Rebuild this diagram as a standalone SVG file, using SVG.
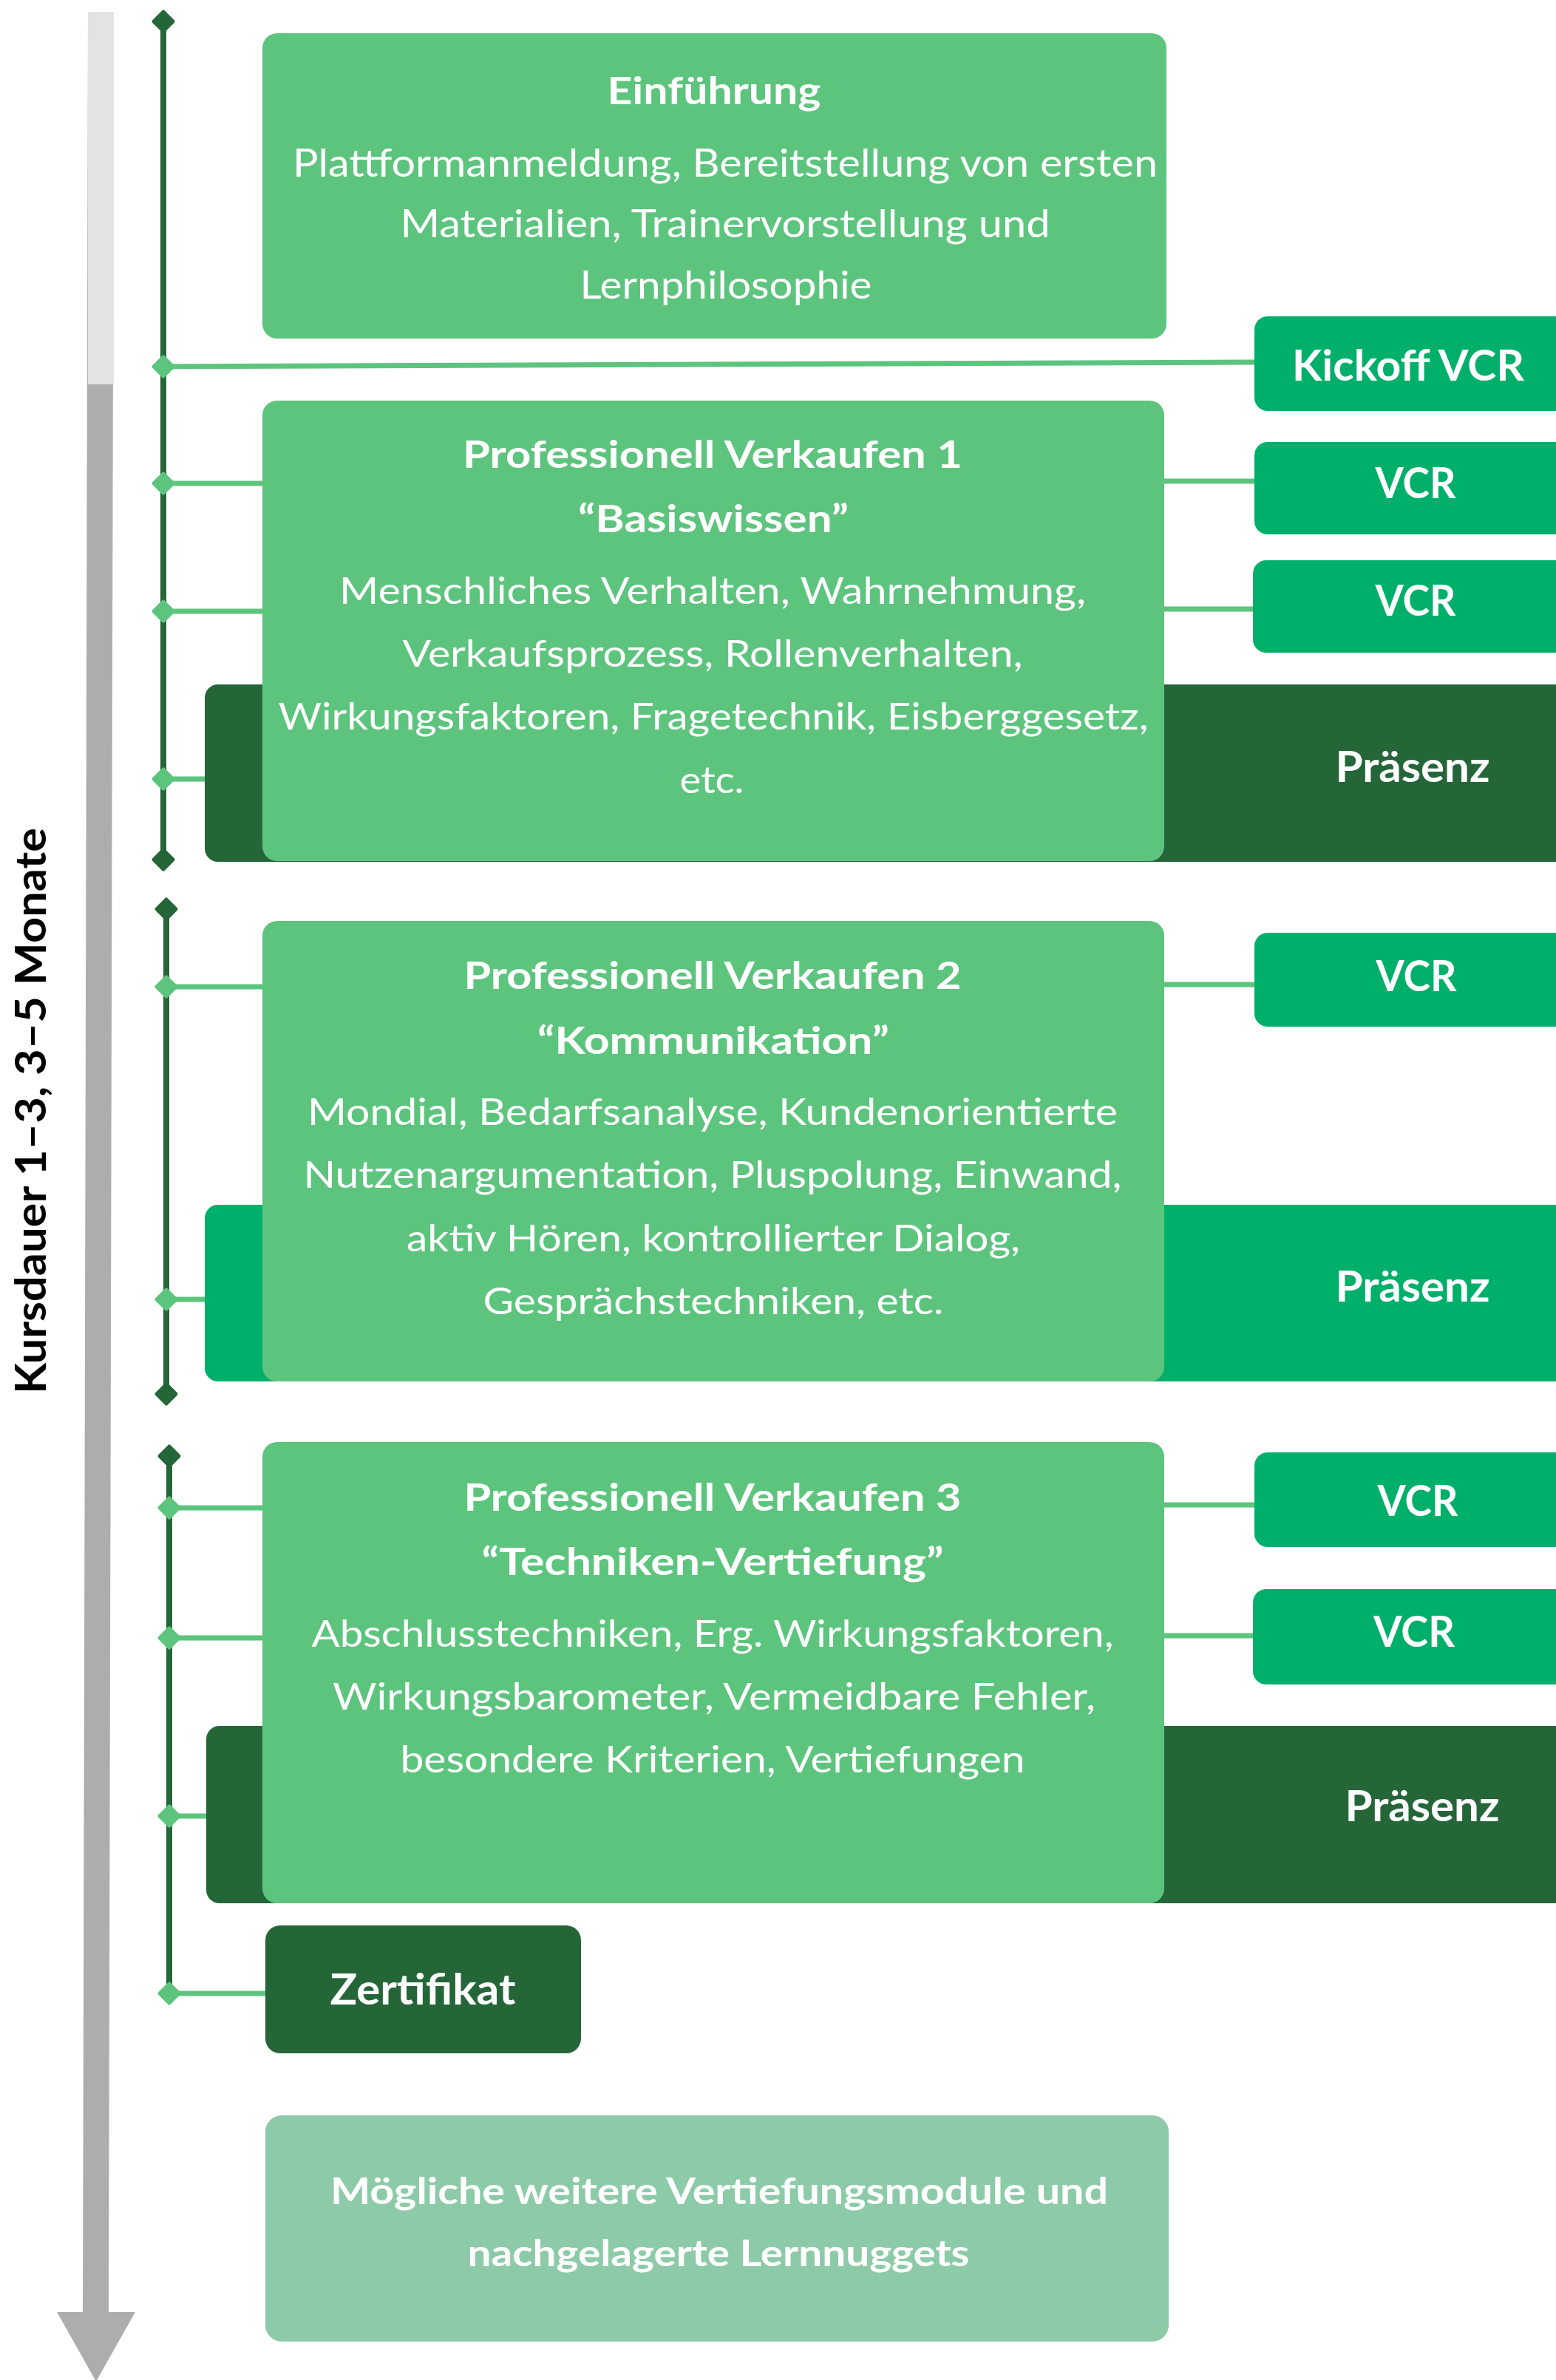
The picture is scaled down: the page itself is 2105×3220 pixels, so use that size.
<svg xmlns="http://www.w3.org/2000/svg" xmlns:xlink="http://www.w3.org/1999/xlink" width="2105" height="3220" viewBox="0 0 2105 3220">
<style>
.box{fill:#5DC47E}
.vcr{fill:#00B06A}
.dark{fill:#256639}
.more{fill:#8DCBA8}
.t{font-family:Lato,Carlito,"Liberation Sans",sans-serif;fill:#fff;text-anchor:middle}
.body{font-size:51px;font-weight:400}
.ebody{font-size:52px;font-weight:400}
.title{font-size:51px;font-weight:700}
.lbl{font-size:58px;font-weight:700}
.conn{stroke:#5DC47E;stroke-width:7;fill:none}
.tl{stroke:#256639;stroke-width:8;fill:none}
.dd{fill:#256639;stroke:#256639}
.ld{fill:#5DC47E;stroke:#5DC47E}
</style>
<defs>
<path id="dm" d="M0,-13 L13,0 L0,13 L-13,0Z" stroke-width="5" stroke-linejoin="round"/>
</defs>
<rect width="2105" height="3220" fill="#fff"/>

<g id="time-arrow">
<polygon points="119,16 154,16 147,3128 183,3128 130,3222 77,3128 112,3128" fill="#ADADAD"/>
<polygon points="119,16 154,16 153.9,520 118.9,520" fill="#E3E3E3"/>
<text class="t" transform="translate(62,1503) rotate(-90)" style="fill:#000;font-size:58px;font-weight:700" textLength="766" lengthAdjust="spacingAndGlyphs">Kursdauer 1–3, 3–5 Monate</text>
</g>

<g id="connectors">
<line class="tl" x1="221" y1="29" x2="221" y2="1163"/>
<line class="tl" x1="225" y1="1230" x2="225" y2="1886"/>
<line class="tl" x1="229" y1="1970" x2="229" y2="2697"/>
<line class="conn" x1="221" y1="496" x2="1697" y2="490"/>
<line class="conn" x1="221" y1="654" x2="355" y2="654"/>
<line class="conn" x1="221" y1="827" x2="355" y2="827"/>
<line class="conn" x1="221" y1="1054" x2="277" y2="1054"/>
<line class="conn" x1="1575" y1="651" x2="1697" y2="651"/>
<line class="conn" x1="1575" y1="824" x2="1697" y2="824"/>
<line class="conn" x1="225" y1="1335" x2="355" y2="1335"/>
<line class="conn" x1="225" y1="1758" x2="277" y2="1758"/>
<line class="conn" x1="1575" y1="1332" x2="1697" y2="1332"/>
<line class="conn" x1="229" y1="2040" x2="355" y2="2040"/>
<line class="conn" x1="229" y1="2216" x2="355" y2="2216"/>
<line class="conn" x1="229" y1="2457" x2="279" y2="2457"/>
<line class="conn" x1="1575" y1="2036" x2="1697" y2="2036"/>
<line class="conn" x1="1575" y1="2213" x2="1695" y2="2213"/>
<line class="conn" x1="229" y1="2697" x2="359" y2="2697"/>
<use xlink:href="#dm" class="dd" x="221" y="29"/>
<use xlink:href="#dm" class="dd" x="221" y="1163"/>
<use xlink:href="#dm" class="dd" x="225" y="1230"/>
<use xlink:href="#dm" class="dd" x="225" y="1886"/>
<use xlink:href="#dm" class="dd" x="229" y="1970"/>
<use xlink:href="#dm" class="ld" x="221" y="496"/>
<use xlink:href="#dm" class="ld" x="221" y="654"/>
<use xlink:href="#dm" class="ld" x="221" y="827"/>
<use xlink:href="#dm" class="ld" x="221" y="1054"/>
<use xlink:href="#dm" class="ld" x="225" y="1335"/>
<use xlink:href="#dm" class="ld" x="225" y="1758"/>
<use xlink:href="#dm" class="ld" x="229" y="2040"/>
<use xlink:href="#dm" class="ld" x="229" y="2216"/>
<use xlink:href="#dm" class="ld" x="229" y="2457"/>
<use xlink:href="#dm" class="ld" x="229" y="2697"/>
</g>

<g id="einfuehrung">
<rect class="box" x="355" y="45" width="1223" height="413" rx="20"/>
<text class="t title" x="966" y="141" textLength="289" lengthAdjust="spacingAndGlyphs">Einführung</text>
<text class="t ebody" x="981" y="239" textLength="1170" lengthAdjust="spacingAndGlyphs">Plattformanmeldung, Bereitstellung von ersten</text>
<text class="t ebody" x="981" y="321" textLength="879" lengthAdjust="spacingAndGlyphs">Materialien, Trainervorstellung und</text>
<text class="t ebody" x="982" y="404" textLength="395" lengthAdjust="spacingAndGlyphs">Lernphilosophie</text>
</g>

<g id="kickoff-vcr">
<rect class="vcr" x="1697" y="428" width="440" height="128" rx="18"/>
<text class="t lbl" x="1905" y="515" textLength="314" lengthAdjust="spacingAndGlyphs">Kickoff VCR</text>
</g>

<g id="vcr-1a">
<rect class="vcr" x="1697" y="598" width="440" height="125" rx="18"/>
<text class="t lbl" x="1915" y="674" textLength="109" lengthAdjust="spacingAndGlyphs">VCR</text>
</g>

<g id="vcr-1b">
<rect class="vcr" x="1695" y="758" width="440" height="125" rx="18"/>
<text class="t lbl" x="1915" y="833" textLength="109" lengthAdjust="spacingAndGlyphs">VCR</text>
</g>

<g id="praesenz-1">
<rect class="dark" x="277" y="926" width="1860" height="240" rx="18"/>
<text class="t lbl" x="1911" y="1058" textLength="209" lengthAdjust="spacingAndGlyphs">Präsenz</text>
</g>

<g id="pv1">
<rect class="box" x="355" y="542" width="1220" height="623" rx="20"/>
<text class="t title" x="964" y="633" textLength="676" lengthAdjust="spacingAndGlyphs">Professionell Verkaufen 1</text>
<text class="t title" x="965" y="720" textLength="366" lengthAdjust="spacingAndGlyphs">“Basiswissen”</text>
<text class="t body" x="964" y="817" textLength="1010" lengthAdjust="spacingAndGlyphs">Menschliches Verhalten, Wahrnehmung,</text>
<text class="t body" x="964" y="902" textLength="839" lengthAdjust="spacingAndGlyphs">Verkaufsprozess, Rollenverhalten,</text>
<text class="t body" x="965" y="987" textLength="1177" lengthAdjust="spacingAndGlyphs">Wirkungsfaktoren, Fragetechnik, Eisberggesetz,</text>
<text class="t body" x="963" y="1073" textLength="87" lengthAdjust="spacingAndGlyphs">etc.</text>
</g>

<g id="vcr-2">
<rect class="vcr" x="1697" y="1262" width="440" height="127" rx="18"/>
<text class="t lbl" x="1916" y="1341" textLength="109" lengthAdjust="spacingAndGlyphs">VCR</text>
</g>

<g id="praesenz-2">
<rect class="vcr" x="277" y="1630" width="1860" height="239" rx="18"/>
<text class="t lbl" x="1911" y="1761" textLength="209" lengthAdjust="spacingAndGlyphs">Präsenz</text>
</g>

<g id="pv2">
<rect class="box" x="355" y="1246" width="1220" height="623" rx="20"/>
<text class="t title" x="964" y="1338" textLength="673" lengthAdjust="spacingAndGlyphs">Professionell Verkaufen 2</text>
<text class="t title" x="965" y="1426" textLength="476" lengthAdjust="spacingAndGlyphs">“Kommunikation”</text>
<text class="t body" x="964" y="1522" textLength="1096" lengthAdjust="spacingAndGlyphs">Mondial, Bedarfsanalyse, Kundenorientierte</text>
<text class="t body" x="964" y="1607" textLength="1107" lengthAdjust="spacingAndGlyphs">Nutzenargumentation, Pluspolung, Einwand,</text>
<text class="t body" x="965" y="1693" textLength="830" lengthAdjust="spacingAndGlyphs">aktiv Hören, kontrollierter Dialog,</text>
<text class="t body" x="965" y="1778" textLength="623" lengthAdjust="spacingAndGlyphs">Gesprächstechniken, etc.</text>
</g>

<g id="vcr-3a">
<rect class="vcr" x="1697" y="1965" width="440" height="128" rx="18"/>
<text class="t lbl" x="1918" y="2051" textLength="109" lengthAdjust="spacingAndGlyphs">VCR</text>
</g>

<g id="vcr-3b">
<rect class="vcr" x="1695" y="2150" width="440" height="129" rx="18"/>
<text class="t lbl" x="1913" y="2228" textLength="110" lengthAdjust="spacingAndGlyphs">VCR</text>
</g>

<g id="praesenz-3">
<rect class="dark" x="279" y="2335" width="1860" height="240" rx="18"/>
<text class="t lbl" x="1924" y="2464" textLength="209" lengthAdjust="spacingAndGlyphs">Präsenz</text>
</g>

<g id="pv3">
<rect class="box" x="355" y="1951" width="1220" height="624" rx="20"/>
<text class="t title" x="964" y="2044" textLength="673" lengthAdjust="spacingAndGlyphs">Professionell Verkaufen 3</text>
<text class="t title" x="964" y="2131" textLength="625" lengthAdjust="spacingAndGlyphs">“Techniken-Vertiefung”</text>
<text class="t body" x="964" y="2228" textLength="1085" lengthAdjust="spacingAndGlyphs">Abschlusstechniken, Erg. Wirkungsfaktoren,</text>
<text class="t body" x="966" y="2313" textLength="1032" lengthAdjust="spacingAndGlyphs">Wirkungsbarometer, Vermeidbare Fehler,</text>
<text class="t body" x="964" y="2398" textLength="845" lengthAdjust="spacingAndGlyphs">besondere Kriterien, Vertiefungen</text>
</g>

<g id="zertifikat">
<rect class="dark" x="359" y="2605" width="427" height="173" rx="20"/>
<text class="t" x="572" y="2712" style="font-size:57px;font-weight:700" textLength="251" lengthAdjust="spacingAndGlyphs">Zertifikat</text>
</g>

<g id="weitere-module">
<rect class="more" x="359" y="2862" width="1222" height="306" rx="22"/>
<text class="t" x="973" y="2982" style="font-size:50px;font-weight:700" textLength="1052" lengthAdjust="spacingAndGlyphs">Mögliche weitere Vertiefungsmodule und</text>
<text class="t" x="972" y="3066" style="font-size:50px;font-weight:700" textLength="679" lengthAdjust="spacingAndGlyphs">nachgelagerte Lernnuggets</text>
</g>
</svg>
